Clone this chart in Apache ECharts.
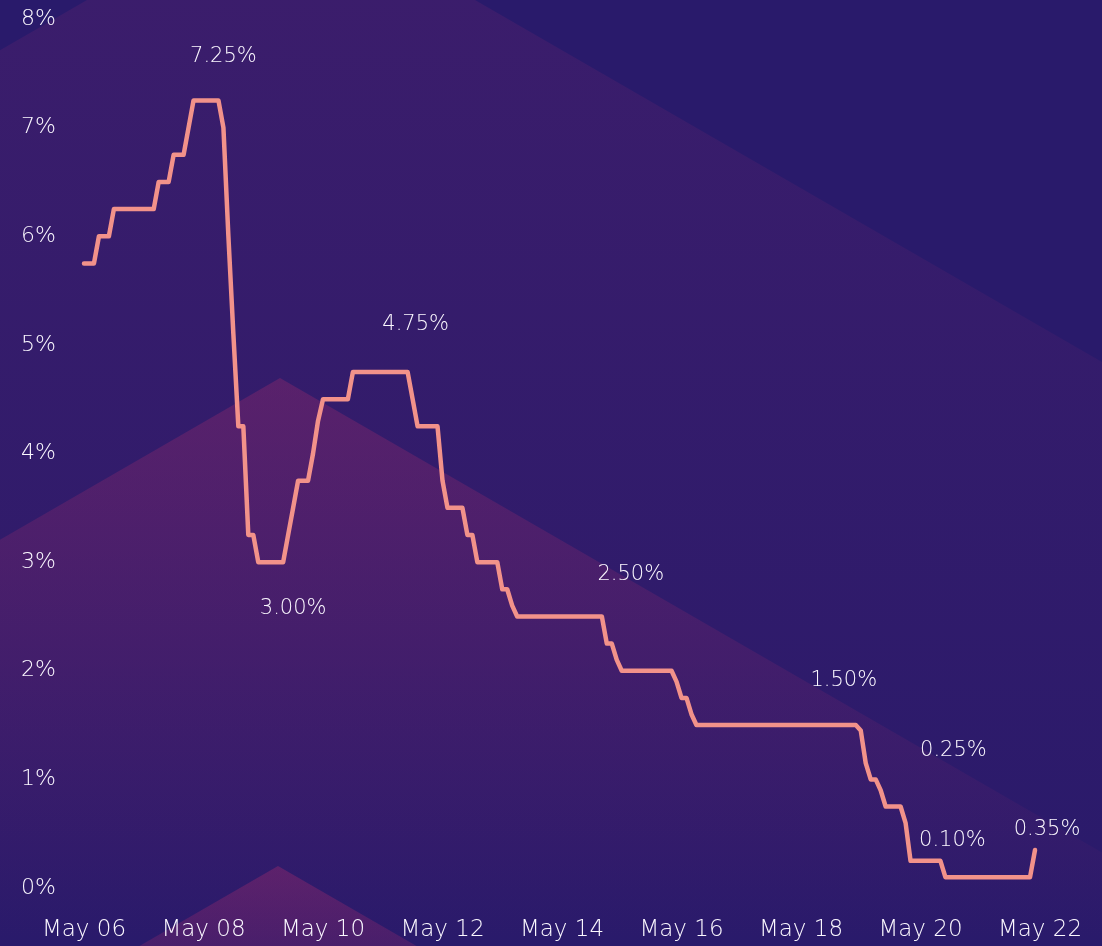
<!DOCTYPE html>
<html>
<head>
<meta charset="utf-8">
<script src="https://cdn.jsdelivr.net/npm/echarts@6/dist/echarts.min.js"></script>
<style>
html,body{margin:0;padding:0;background:#291a6b;}
#chart{width:1102px;height:946px;}
</style>
</head>
<body>
<div id="chart"></div>
<script>
// ---- data ----
const startYear = 2006;          // first month: May 2006
const monthNames = ['Jan','Feb','Mar','Apr','May','Jun','Jul','Aug','Sep','Oct','Nov','Dec'];
const startMonth = 4;            // May
const monthCount = 193;          // May 06 .. May 22

// monthly rate values (%), May 2006 onwards
const rates = [
  5.75, 5.75, 5.75, 6.0, 6.0, 6.0, 6.25, 6.25, 6.25, 6.25, 6.25, 6.25,
  6.25, 6.25, 6.25, 6.5, 6.5, 6.5, 6.75, 6.75, 6.75, 7.0, 7.25, 7.25,
  7.25, 7.25, 7.25, 7.25, 7.0, 6.0, 5.1, 4.25, 4.25, 3.25, 3.25, 3.0,
  3.0, 3.0, 3.0, 3.0, 3.0, 3.25, 3.5, 3.75, 3.75, 3.75, 4.0, 4.3,
  4.5, 4.5, 4.5, 4.5, 4.5, 4.5, 4.75, 4.75, 4.75, 4.75, 4.75, 4.75,
  4.75, 4.75, 4.75, 4.75, 4.75, 4.75, 4.5, 4.25, 4.25, 4.25, 4.25, 4.25,
  3.75, 3.5, 3.5, 3.5, 3.5, 3.25, 3.25, 3.0, 3.0, 3.0, 3.0, 3.0,
  2.75, 2.75, 2.6, 2.5, 2.5, 2.5, 2.5, 2.5, 2.5, 2.5, 2.5, 2.5,
  2.5, 2.5, 2.5, 2.5, 2.5, 2.5, 2.5, 2.5, 2.5, 2.25, 2.25, 2.1,
  2.0, 2.0, 2.0, 2.0, 2.0, 2.0, 2.0, 2.0, 2.0, 2.0, 2.0, 1.9,
  1.75, 1.75, 1.6, 1.5, 1.5, 1.5, 1.5, 1.5, 1.5, 1.5, 1.5, 1.5,
  1.5, 1.5, 1.5, 1.5, 1.5, 1.5, 1.5, 1.5, 1.5, 1.5, 1.5, 1.5,
  1.5, 1.5, 1.5, 1.5, 1.5, 1.5, 1.5, 1.5, 1.5, 1.5, 1.5, 1.5,
  1.45, 1.15, 1.0, 1.0, 0.9, 0.75, 0.75, 0.75, 0.75, 0.6, 0.25, 0.25,
  0.25, 0.25, 0.25, 0.25, 0.25, 0.1, 0.1, 0.1, 0.1, 0.1, 0.1, 0.1,
  0.1, 0.1, 0.1, 0.1, 0.1, 0.1, 0.1, 0.1, 0.1, 0.1, 0.1, 0.35
];

// annotated points (month index into rates)
const annotatedIdx = [27, 40, 65, 104, 155, 172, 173, 191];

const yTicks = [0, 1, 2, 3, 4, 5, 6, 7, 8];

// ---- build categories ----
const categories = [];
for (let i = 0; i < monthCount; i++) {
  const m = (startMonth + i) % 12;
  const y = startYear + Math.floor((startMonth + i) / 12);
  categories.push(monthNames[m] + ' ' + String(y % 100).padStart(2, '0'));
}
const seriesData = categories.map((c, i) => (i < rates.length ? rates[i] : null));

// label placement (style only)
const labelOffsets = {
  27: [5, -44], 40: [10, 46], 65: [8, -47], 104: [29, -42],
  155: [-12, -45], 172: [13, -110], 173: [7, -37], 191: [12, -20]
};

const FONT = "'DejaVu Sans', sans-serif";
const TXT = '#fbf8ff';

const chart = echarts.init(document.getElementById('chart'), null, {renderer: 'canvas'});

function mountain(ax, ay, c0, c1) {
  const dy = 946 - ay;
  const dx = dy / Math.tan(Math.PI / 6);
  return {
    type: 'polygon',
    silent: true,
    z: -10,
    shape: {points: [[ax, ay], [ax + dx, 946], [ax - dx, 946]]},
    style: {
      fill: new echarts.graphic.LinearGradient(0, 0, 0, 1, [
        {offset: 0, color: c0}, {offset: 1, color: c1}
      ])
    }
  };
}

const option = {
  backgroundColor: '#291a6b',
  animation: false,
  graphic: [
    mountain(281, -112, 'rgba(125,40,110,0.24)', 'rgba(125,40,110,0.0)'),
    mountain(280, 378, 'rgba(150,42,108,0.38)', 'rgba(150,42,108,0.0)'),
    mountain(278, 866, 'rgba(155,42,108,0.42)', 'rgba(155,42,108,0.28)')
  ],
  grid: {left: 84, right: 62, top: 19, bottom: 58, containLabel: false},
  xAxis: {
    type: 'category',
    data: categories,
    boundaryGap: false,
    axisLine: {show: false},
    axisTick: {show: false},
    splitLine: {show: false},
    axisLabel: {
      interval: 23,
      color: TXT,
      fontFamily: FONT,
      fontWeight: 200,
      fontSize: 23,
      margin: 31
    }
  },
  yAxis: {
    type: 'value',
    min: yTicks[0],
    max: yTicks[yTicks.length - 1],
    interval: 1,
    axisLine: {show: false},
    axisTick: {show: false},
    splitLine: {show: false},
    axisLabel: {
      formatter: '{value}%',
      color: TXT,
      fontFamily: FONT,
      fontWeight: 200,
      fontSize: 22,
      margin: 28,
      padding: [5, 0, 0, 0]
    }
  },
  series: [{
    type: 'line',
    data: seriesData,
    showSymbol: false,
    symbol: 'none',
    lineStyle: {color: '#f2928a', width: 4.5, join: 'round', cap: 'round'},
    z: 5,
    markPoint: {
      symbol: 'circle',
      symbolSize: 1,
      silent: true,
      itemStyle: {color: 'rgba(0,0,0,0)'},
      label: {
        show: true,
        position: 'inside',
        color: TXT,
        fontFamily: FONT,
        fontWeight: 200,
        fontSize: 21,
        formatter: p => p.value.toFixed(2) + '%'
      },
      data: annotatedIdx.map(i => ({
        coord: [i, rates[i]],
        value: rates[i],
        label: {offset: labelOffsets[i]}
      }))
    }
  }]
};
chart.setOption(option);
</script>
</body>
</html>
